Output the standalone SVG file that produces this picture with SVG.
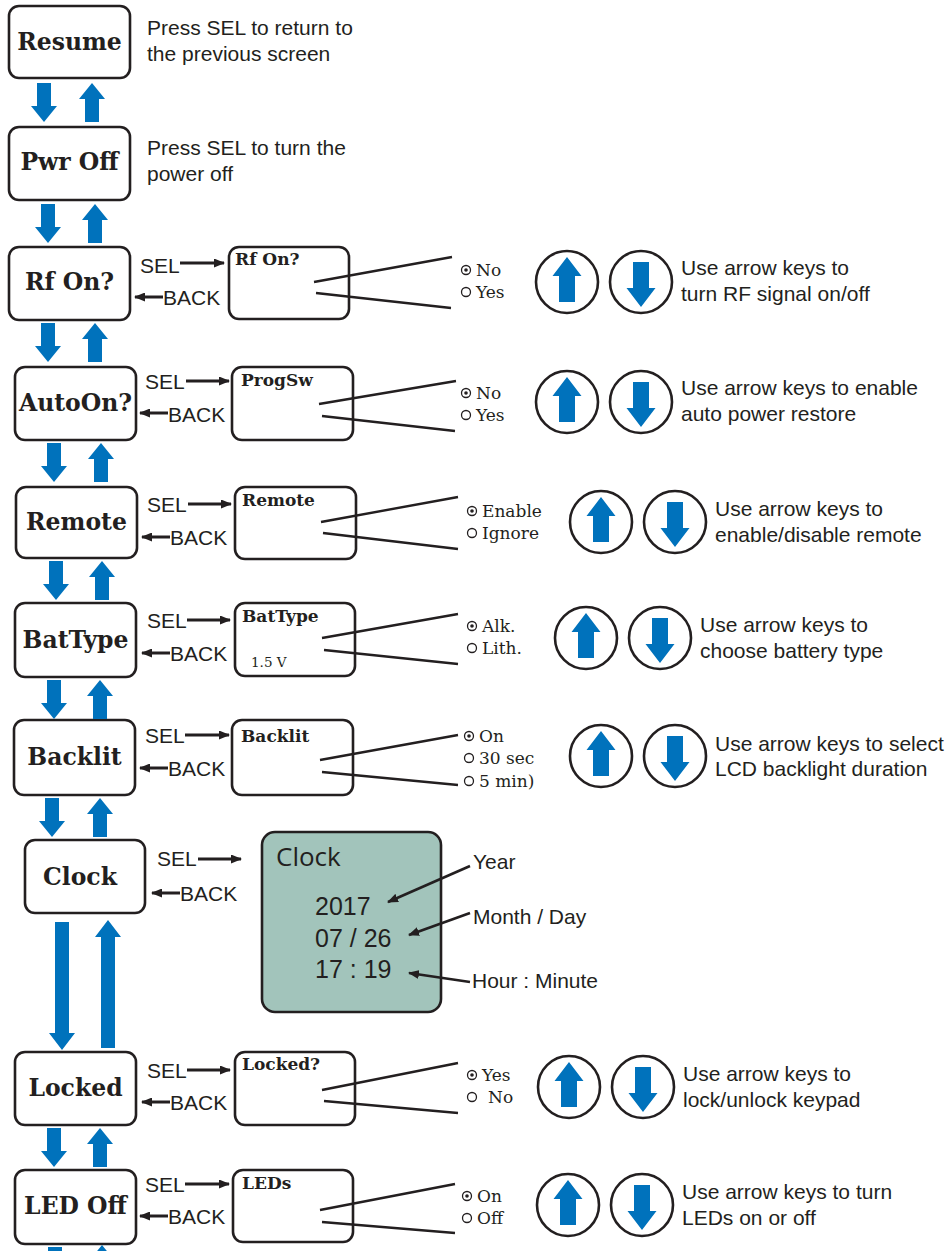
<svg xmlns="http://www.w3.org/2000/svg" xmlns:xlink="http://www.w3.org/1999/xlink" width="951" height="1251" viewBox="0 0 951 1251">
<style>
.box{fill:#fff;stroke:#231f20;stroke-width:2.6}
.scr{fill:#fff;stroke:#231f20;stroke-width:2.6}
.nt{font-family:"DejaVu Serif",serif;font-weight:bold;font-size:23.5px;fill:#231f20;text-anchor:middle}
.st{font-family:"DejaVu Serif",serif;font-weight:bold;font-size:17px;fill:#231f20}
.rt{font-family:"DejaVu Serif",serif;font-size:17px;fill:#231f20}
.tx{font-family:"Liberation Sans",Arial,sans-serif;font-size:21px;fill:#231f20}
.ck{font-family:"Open Sans","Liberation Sans",sans-serif;font-size:26px;fill:#231f20}
.cn{font-family:"Liberation Sans",Arial,sans-serif;font-size:25px;fill:#231f20}
.ln{stroke:#231f20;stroke-width:2.4;fill:none}
.ar{stroke:#231f20;stroke-width:3;fill:none;marker-end:url(#ah)}
.ar2{stroke:#231f20;stroke-width:2.6;fill:none;marker-end:url(#ah)}
.blue{fill:#0072bc}
</style>
<defs>
<marker id="ah" markerUnits="userSpaceOnUse" markerWidth="11" markerHeight="9" refX="10" refY="4.5" orient="auto"><path d="M0,0 L11,4.5 L0,9 Z" fill="#231f20"/></marker>
<path id="dn" class="blue" d="M-7,0 H7 V23 H13 L0,39 L-13,23 H-7 Z"/>
<path id="up" class="blue" d="M0,0 L13,16 H7 V39 H-7 V16 H-13 Z"/>
<g id="keyup"><circle r="31" fill="#fff" stroke="#231f20" stroke-width="2.6"/><path class="blue" d="M0,-25 L14.5,-6 H8 V20 H-8 V-6 H-14.5 Z"/></g>
<g id="keydn"><circle r="31" fill="#fff" stroke="#231f20" stroke-width="2.6"/><path class="blue" d="M-8,-20 H8 V6 H14.5 L0,25 L-14.5,6 H-8 Z"/></g>
<g id="ron"><circle r="4.5" fill="none" stroke="#231f20" stroke-width="1.3"/><circle r="1.8" fill="#231f20"/></g>
<circle id="roff" r="4.5" fill="none" stroke="#231f20" stroke-width="1.3"/>
</defs>
<rect width="951" height="1251" fill="#fff"/>

<g id="resume"><rect class="box" x="9" y="6" width="121" height="72" rx="10"/><text class="nt" x="69.5" y="50">Resume</text>
<text class="tx" x="147" y="35">Press SEL to return to</text><text class="tx" x="147" y="61">the previous screen</text></g>

<g id="pwroff"><rect class="box" x="9" y="127" width="121" height="73" rx="10"/><text class="nt" x="69.5" y="170">Pwr Off</text>
<text class="tx" x="147" y="155">Press SEL to turn the</text><text class="tx" x="147" y="181">power off</text></g>

<g id="rfon"><rect class="box" x="9" y="247" width="121" height="73" rx="10"/><text class="nt" x="69.5" y="290">Rf On?</text>
<text class="tx" x="140" y="273">SEL</text><text class="tx" x="163" y="305">BACK</text>
<rect class="scr" x="229" y="247" width="120" height="72" rx="10"/><text class="st" x="235" y="265">Rf On?</text>
<use href="#ron" x="466" y="270"/><text class="rt" x="476" y="276">No</text>
<use href="#roff" x="466" y="292"/><text class="rt" x="476" y="298">Yes</text>
<use href="#keyup" x="567" y="282"/><use href="#keydn" x="641" y="282"/>
<text class="tx" x="681" y="275">Use arrow keys to</text><text class="tx" x="681" y="301">turn RF signal on/off</text></g>

<g id="autoon"><rect class="box" x="15" y="367" width="121" height="73" rx="10"/><text class="nt" x="75.5" y="411">AutoOn?</text>
<text class="tx" x="145" y="389">SEL</text><text class="tx" x="168" y="422">BACK</text>
<rect class="scr" x="232" y="367" width="121" height="73" rx="10"/><text class="st" x="241" y="386">ProgSw</text>
<use href="#ron" x="466" y="393"/><text class="rt" x="476" y="399">No</text>
<use href="#roff" x="466" y="415"/><text class="rt" x="476" y="421">Yes</text>
<use href="#keyup" x="567" y="402"/><use href="#keydn" x="641" y="402"/>
<text class="tx" x="681" y="395">Use arrow keys to enable</text><text class="tx" x="681" y="421">auto power restore</text></g>

<g id="remote"><rect class="box" x="16" y="487" width="121" height="71" rx="10"/><text class="nt" x="76.5" y="530">Remote</text>
<text class="tx" x="147" y="512">SEL</text><text class="tx" x="170" y="545">BACK</text>
<rect class="scr" x="235" y="487" width="121" height="72" rx="10"/><text class="st" x="242" y="506">Remote</text>
<use href="#ron" x="472" y="511"/><text class="rt" x="482" y="517">Enable</text>
<use href="#roff" x="472" y="533"/><text class="rt" x="482" y="539">Ignore</text>
<use href="#keyup" x="601" y="522"/><use href="#keydn" x="675" y="522"/>
<text class="tx" x="715" y="516">Use arrow keys to</text><text class="tx" x="715" y="542">enable/disable remote</text></g>

<g id="battype"><rect class="box" x="15" y="603" width="121" height="74" rx="10"/><text class="nt" x="75.5" y="648">BatType</text>
<text class="tx" x="147" y="628">SEL</text><text class="tx" x="170" y="661">BACK</text>
<rect class="scr" x="235" y="603" width="120" height="73" rx="10"/><text class="st" x="242" y="622">BatType</text>
<text class="rt" x="251" y="667" style="font-size:13.5px">1.5 V</text>
<use href="#ron" x="472" y="626"/><text class="rt" x="482" y="632">Alk.</text>
<use href="#roff" x="472" y="648"/><text class="rt" x="482" y="654">Lith.</text>
<use href="#keyup" x="586" y="638"/><use href="#keydn" x="660" y="638"/>
<text class="tx" x="700" y="632">Use arrow keys to</text><text class="tx" x="700" y="658">choose battery type</text></g>

<g id="backlit"><rect class="box" x="14" y="720" width="121" height="75" rx="10"/><text class="nt" x="74.5" y="765">Backlit</text>
<text class="tx" x="145" y="743">SEL</text><text class="tx" x="168" y="776">BACK</text>
<rect class="scr" x="232" y="720" width="121" height="75" rx="10"/><text class="st" x="241" y="742">Backlit</text>
<use href="#ron" x="469" y="736"/><text class="rt" x="479" y="742">On</text>
<use href="#roff" x="469" y="758"/><text class="rt" x="479" y="764">30 sec</text>
<use href="#roff" x="469" y="781"/><text class="rt" x="479" y="787">5 min)</text>
<use href="#keyup" x="601" y="756"/><use href="#keydn" x="675" y="756"/>
<text class="tx" x="715" y="751">Use arrow keys to select</text><text class="tx" x="715" y="776">LCD backlight duration</text></g>

<g id="clock"><rect class="box" x="25" y="840" width="120" height="73" rx="10"/><text class="nt" x="80" y="885">Clock</text>
<text class="tx" x="157" y="866">SEL</text><text class="tx" x="180" y="901">BACK</text>
<rect x="262" y="832" width="179" height="180" rx="13" fill="#a2c4bb" stroke="#231f20" stroke-width="2.6"/>
<text class="ck" x="276" y="866">Clock</text>
<text class="cn" x="315" y="915">2017</text>
<text class="cn" x="315" y="947">07 / 26</text>
<text class="cn" x="315" y="978">17 : 19</text>
<text class="tx" x="473" y="869">Year</text>
<text class="tx" x="473" y="924">Month / Day</text>
<text class="tx" x="472" y="988">Hour : Minute</text></g>

<g id="locked"><rect class="box" x="15" y="1052" width="121" height="73" rx="10"/><text class="nt" x="75.5" y="1096">Locked</text>
<text class="tx" x="147" y="1078">SEL</text><text class="tx" x="170" y="1110">BACK</text>
<rect class="scr" x="235" y="1052" width="120" height="73" rx="10"/><text class="st" x="242" y="1070">Locked?</text>
<use href="#ron" x="472" y="1075"/><text class="rt" x="482" y="1081">Yes</text>
<use href="#roff" x="472" y="1097"/><text class="rt" x="488" y="1103">No</text>
<use href="#keyup" x="569" y="1087"/><use href="#keydn" x="643" y="1087"/>
<text class="tx" x="683" y="1081">Use arrow keys to</text><text class="tx" x="683" y="1107">lock/unlock keypad</text></g>

<g id="ledoff"><rect class="box" x="15" y="1170" width="121" height="74" rx="10"/><text class="nt" x="75.5" y="1214">LED Off</text>
<text class="tx" x="145" y="1192">SEL</text><text class="tx" x="168" y="1224">BACK</text>
<rect class="scr" x="233" y="1170" width="120" height="72" rx="10"/><text class="st" x="242" y="1189">LEDs</text>
<use href="#ron" x="467" y="1196"/><text class="rt" x="477" y="1202">On</text>
<use href="#roff" x="467" y="1218"/><text class="rt" x="477" y="1224">Off</text>
<use href="#keyup" x="568" y="1205"/><use href="#keydn" x="642" y="1205"/>
<text class="tx" x="682" y="1199">Use arrow keys to turn</text><text class="tx" x="682" y="1225">LEDs on or off</text></g>

<g id="connectors">
<use href="#dn" x="44" y="83"/><use href="#up" x="92" y="83"/>
<use href="#dn" x="48" y="204"/><use href="#up" x="95" y="204"/>
<use href="#dn" x="48" y="323"/><use href="#up" x="95" y="323"/>
<use href="#dn" x="54" y="443"/><use href="#up" x="101" y="443"/>
<use href="#dn" x="56" y="561"/><use href="#up" x="102" y="561"/>
<use href="#dn" x="54" y="680"/><use href="#up" x="100" y="680"/>
<use href="#dn" x="52" y="798"/><use href="#up" x="100" y="798"/>
<path class="blue" d="M55,922 H69 V1033 H75 L62,1050 L49,1033 H55 Z"/>
<path class="blue" d="M108,920 L121,937 H115 V1048 H101 V937 H95 Z"/>
<use href="#dn" x="54" y="1128"/><use href="#up" x="100" y="1128"/>
<use href="#dn" x="55" y="1247"/><use href="#up" x="102" y="1245"/>

<line class="ar" x1="180" y1="263" x2="224" y2="263"/><line class="ar" x1="163" y1="297" x2="135" y2="297"/>
<line class="ar" x1="186" y1="381" x2="229" y2="381"/><line class="ar" x1="168" y1="413" x2="140" y2="413"/>
<line class="ar" x1="188" y1="504" x2="231" y2="504"/><line class="ar" x1="170" y1="537" x2="142" y2="537"/>
<line class="ar" x1="187" y1="620" x2="230" y2="620"/><line class="ar" x1="170" y1="653" x2="142" y2="653"/>
<line class="ar" x1="185" y1="735" x2="229" y2="735"/><line class="ar" x1="168" y1="768" x2="140" y2="768"/>
<line class="ar" x1="198" y1="859" x2="241" y2="859"/><line class="ar" x1="180" y1="893" x2="152" y2="893"/>
<line class="ar" x1="187" y1="1070" x2="230" y2="1070"/><line class="ar" x1="170" y1="1102" x2="142" y2="1102"/>
<line class="ar" x1="185" y1="1184" x2="229" y2="1184"/><line class="ar" x1="168" y1="1216" x2="140" y2="1216"/>

<path class="ln" d="M314,282 L452,257 M316,293 L451,308"/>
<path class="ln" d="M319,404 L456,381 M322,416 L455,431"/>
<path class="ln" d="M321,522 L458,497 M323,533 L458,549"/>
<path class="ln" d="M322,638 L458,614 M324,650 L458,664"/>
<path class="ln" d="M320,760 L458,735 M322,772 L458,785"/>
<path class="ln" d="M322,1090 L458,1063 M324,1101 L458,1113"/>
<path class="ln" d="M320,1210 L455,1184 M322,1222 L455,1233"/>

<line class="ar2" x1="470" y1="866" x2="388" y2="902"/>
<line class="ar2" x1="470" y1="913" x2="409" y2="935"/>
<line class="ar2" x1="470" y1="982" x2="409" y2="973"/>
</g>
</svg>
